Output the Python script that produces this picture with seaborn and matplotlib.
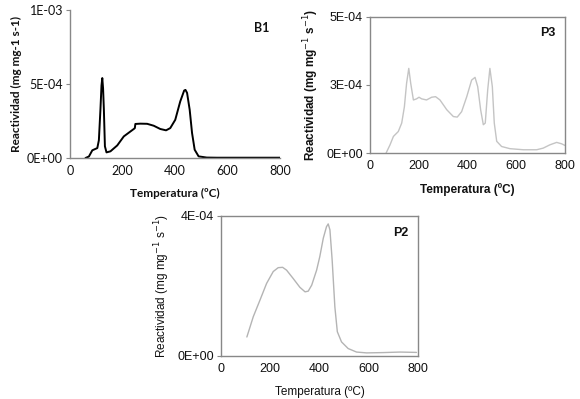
import matplotlib
matplotlib.use("Agg")
import matplotlib.pyplot as plt
import seaborn as sns
import pandas as pd
from matplotlib.ticker import FuncFormatter

# B1 curve (black)
b1_temp = [59, 72, 85, 95, 104, 110, 116, 120, 123, 126, 129, 133, 139, 154, 180, 205, 243, 247,
           249, 268, 294, 319, 344, 366, 382, 401, 420, 435, 440, 446, 456, 465, 475, 490,
           521, 560, 600, 650, 700, 750, 800]
b1_react = [0, 1.0e-5, 5.2e-5, 6.0e-5, 6.7e-5, 1.2e-4, 3.3e-4, 4.9e-4, 5.4e-4, 4.7e-4, 3.3e-4,
            7.9e-5, 3.8e-5, 4.5e-5, 8.5e-5, 1.46e-4, 1.96e-4, 2.02e-4, 2.3e-4, 2.32e-4,
            2.31e-4, 2.18e-4, 1.96e-4, 1.87e-4, 2.02e-4, 2.58e-4, 3.82e-4, 4.56e-4, 4.6e-4,
            4.4e-4, 3.26e-4, 1.69e-4, 5.6e-5, 1.1e-5, 3e-6, 2e-6, 2e-6, 2e-6, 2e-6, 2e-6, 2e-6]

# P3 curve (light grey)
p3_temp = [66, 82, 96, 116, 130, 141, 150, 159, 167, 178, 191, 201, 212, 232, 253, 269,
           287, 315, 342, 358, 376, 397, 417, 431, 442, 454, 465, 473, 483, 492, 502,
           510, 520, 540, 574, 629, 684, 711, 738, 766, 786, 800]
p3_react = [0, 3.0e-5, 6.1e-5, 7.9e-5, 1.1e-4, 1.7e-4, 2.56e-4, 3.11e-4, 2.56e-4, 1.95e-4,
            1.99e-4, 2.05e-4, 1.99e-4, 1.95e-4, 2.05e-4, 2.07e-4, 1.95e-4, 1.59e-4,
            1.34e-4, 1.32e-4, 1.52e-4, 2.07e-4, 2.68e-4, 2.78e-4, 2.44e-4, 1.59e-4,
            1.04e-4, 1.1e-4, 2.32e-4, 3.11e-4, 2.44e-4, 1.1e-4, 4.3e-5, 2.4e-5, 1.6e-5,
            1.2e-5, 1.2e-5, 1.8e-5, 3.0e-5, 3.9e-5, 3.4e-5, 2.8e-5]

# P2 curve (grey)
p2_temp = [105, 118, 131, 158, 185, 212, 232, 250, 266, 293, 320, 341, 354, 368, 388,
           401, 415, 428, 435, 442, 451, 462, 472, 489, 516, 550, 591, 658, 726, 793]
p2_react = [5.4e-5, 8.3e-5, 1.12e-4, 1.59e-4, 2.07e-4, 2.41e-4, 2.52e-4, 2.53e-4,
            2.45e-4, 2.21e-4, 1.96e-4, 1.83e-4, 1.85e-4, 2.02e-4, 2.45e-4, 2.84e-4,
            3.36e-4, 3.69e-4, 3.77e-4, 3.6e-4, 2.74e-4, 1.4e-4, 6.9e-5, 4.0e-5, 2.1e-5,
            1.1e-5, 8.6e-6, 9.5e-6, 1.1e-5, 1.0e-5]

x_ticks = [0, 200, 400, 600, 800]

sns.set_theme(style="white")
plt.rcParams['font.family'] = ['Liberation Sans', 'DejaVu Sans']


def sci_fmt(v, pos):
    if v == 0:
        return "0E+00"
    return "%.0E" % v


fig = plt.figure(figsize=(5.8, 3.99), dpi=100)

panels = [
    # name, temp, react, rect, yticks, color, bold labels, frame, font, ylabel, lw
    ("B1", b1_temp, b1_react, [0.1207, 0.604, 0.362, 0.371], [0, 5e-4, 1e-3], "black",
     True, False, "Lato", "Reactividad (mg mg-1 s-1)", 1.4),
    ("P3", p3_temp, p3_react, [0.638, 0.6165, 0.336, 0.341], [0, 2.5e-4, 5e-4], "#c4c4c4",
     True, True, "Liberation Sans", "Reactividad (mg mg$^{-1}$ s$^{-1}$)", 1.0),
    ("P2", p2_temp, p2_react, [0.381, 0.108, 0.340, 0.351], [0, 4e-4], "#b4b4b4",
     False, True, "Liberation Sans", "Reactividad (mg mg$^{-1}$ s$^{-1}$)", 1.0),
]

for name, t, r, rect, yt, col, bold, frame, fam, ylab, lw in panels:
    ax = fig.add_axes(rect)
    df = pd.DataFrame({"Temperatura": t, "Reactividad": r})
    sns.lineplot(data=df, x="Temperatura", y="Reactividad", ax=ax, color=col,
                 linewidth=lw, sort=False)
    ax.set_xlim(0, 800)
    ax.set_ylim(0, yt[-1])
    ax.set_xticks(x_ticks)
    ax.set_yticks(yt)
    ax.yaxis.set_major_formatter(FuncFormatter(sci_fmt))
    ax.tick_params(axis="both", which="major", direction="out", length=3, width=0.8,
                   color="#888888", labelsize=9, pad=2, left=True, bottom=False)
    for lbl in ax.get_xticklabels() + ax.get_yticklabels():
        lbl.set_family([fam, "DejaVu Sans"])
        lbl.set_color("#111111")
    for side, sp in ax.spines.items():
        sp.set_color("#888888")
        sp.set_linewidth(1.0)
        if not frame and side in ("top", "right"):
            sp.set_visible(False)
    wt = "bold" if bold else "normal"
    ax.set_xlabel("Temperatura (ºC)", fontsize=8.5, fontweight=wt,
                  family=[fam, "DejaVu Sans"], labelpad=8, color="#111111")
    ax.set_ylabel(ylab, fontsize=8.5, fontweight=wt, family=[fam, "DejaVu Sans"],
                  labelpad=4, color="#111111")
    ax.text(0.95, 0.88, name, transform=ax.transAxes, ha="right", va="center",
            fontsize=9, fontweight="bold", family=[fam, "DejaVu Sans"], color="#111111")

fig.savefig("out.png", dpi=100)
